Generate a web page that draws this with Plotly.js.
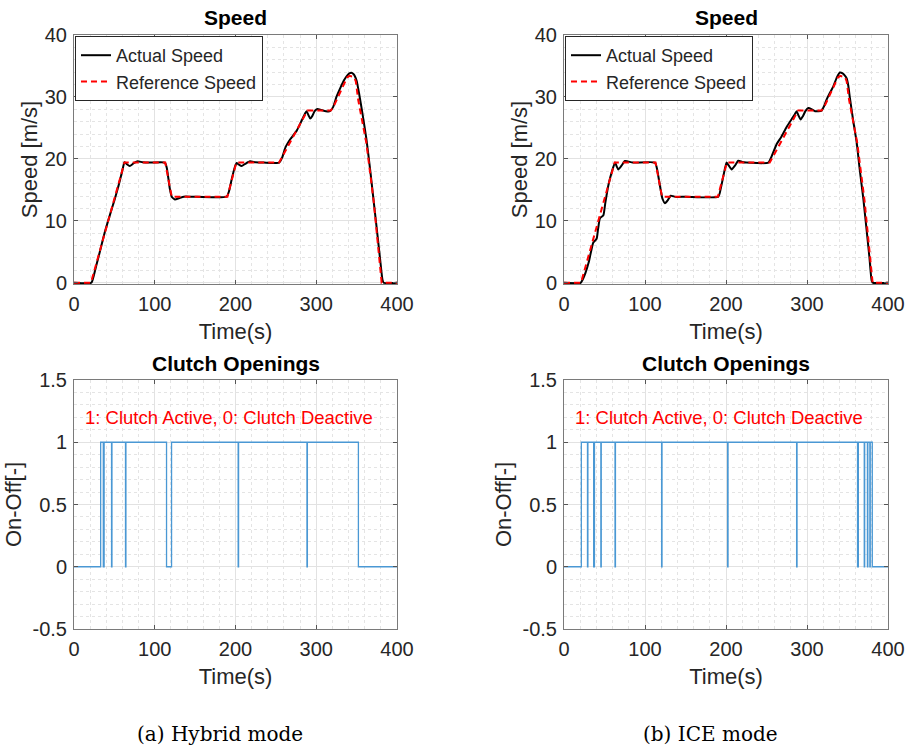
<!DOCTYPE html>
<html>
<head>
<meta charset="utf-8">
<script src="https://cdn.plot.ly/plotly-3.0.1.min.js"></script>
<style>html,body{margin:0;padding:0;background:#fff;}#chart{width:908px;height:749px;}</style>
</head>
<body>
<div id="chart"></div>
<script>
// ---- Reference speed (same cycle for both modes) ----
const refTime  = [0, 21, 62.5, 113, 121, 190, 201, 254, 289, 318, 322, 330, 338, 341, 347, 349, 352, 362, 371, 381, 400];
const refSpeed = [0, 0, 19.4, 19.4, 13.9, 13.9, 19.4, 19.4, 27.8, 27.8, 28.6, 31.0, 33.1, 33.4, 33.2, 32.5, 29.5, 22.6, 13.3, 0, 0];

// ---- Actual speed, hybrid mode ----
const hybTime  = [0, 21.5, 24, 28, 32, 38, 44.6, 50, 55, 60, 62.5, 65, 69, 74, 79, 85, 95, 112.5, 115, 118.5, 121, 125, 130, 136, 145, 189, 192, 195.3, 199, 201.4, 204, 207.6, 212, 218, 225, 235, 254, 258, 262, 268, 276, 282, 286, 288, 290.5, 292.5, 295, 298, 301.5, 306, 312, 317, 321, 325, 330, 334, 338, 341, 343.5, 346, 348, 350, 353, 357, 362, 367, 371, 376, 379, 382, 383.5, 400];
const hybSpeed = [0, 0, 0.9, 3.0, 5.0, 8.1, 11.0, 13.3, 15.6, 18.2, 19.45, 19.2, 18.85, 19.3, 19.6, 19.45, 19.4, 19.4, 18.5, 15.3, 13.9, 13.45, 13.65, 13.9, 13.9, 13.9, 14.8, 16.7, 18.6, 19.35, 19.1, 18.85, 19.2, 19.6, 19.45, 19.4, 19.4, 20.3, 21.9, 23.2, 24.6, 26.2, 27.3, 27.7, 27.0, 26.5, 26.9, 27.7, 28.05, 27.9, 27.7, 27.7, 28.4, 30.0, 31.5, 32.6, 33.4, 33.8, 33.9, 33.7, 33.3, 32.6, 30.6, 27.5, 23.3, 18.0, 13.3, 7.5, 3.9, 0.5, 0, 0];

// ---- Actual speed, ICE mode ----
const iceTime  = [0, 20.5, 23, 26.5, 30.5, 33, 36.2, 40.3, 42, 44.4, 48.6, 51, 54.7, 59, 63, 65, 67, 71, 75.3, 85, 112.3, 115, 118.5, 121.5, 124.7, 128, 131.7, 135, 139, 150, 190.5, 193.5, 196.7, 199, 200.8, 203.5, 207, 211, 215.2, 220, 225, 252.3, 256, 262.6, 268, 275, 281, 285, 287.2, 289.5, 292.2, 295, 298, 301.6, 306, 310, 314, 318, 321, 324.3, 328, 332.5, 337, 340.7, 344, 347, 349, 351, 353, 357, 361.4, 365, 369.6, 374, 377, 379.9, 381.5, 400];
const iceSpeed = [0, 0, 0.5, 1.6, 3.3, 4.8, 6.5, 7.1, 8.6, 10.4, 10.9, 12.9, 15.7, 17.9, 19.4, 18.8, 18.3, 18.9, 19.65, 19.4, 19.4, 18.3, 15.6, 13.6, 12.85, 13.3, 14.05, 13.95, 13.85, 13.9, 13.9, 15.2, 17.2, 18.6, 19.4, 18.9, 18.3, 18.9, 19.7, 19.5, 19.4, 19.4, 20.3, 22.4, 23.5, 25.2, 26.4, 27.2, 27.7, 27.0, 26.35, 26.9, 27.7, 28.2, 28.0, 27.7, 27.7, 27.8, 28.5, 29.6, 30.6, 31.7, 33.2, 33.95, 33.8, 33.4, 33.0, 31.8, 29.8, 26.2, 22.6, 18.4, 13.5, 8.0, 4.2, 0.3, 0, 0];

// ---- Clutch state (step signals) ----
const hybClutchTime  = [0, 33, 36.3, 37.3, 46.5, 47.0, 63.8, 64.3, 114.6, 120.8, 203.3, 203.8, 288.5, 289.0, 352.2, 400];
const hybClutchState = [0, 1, 0, 1, 0, 1, 0, 1, 0, 1, 0, 1, 0, 1, 0, 0];
const iceClutchTime  = [0, 21.4, 29.0, 29.5, 36.6, 37.6, 45.5, 46.0, 63.0, 63.5, 120.5, 121.0, 202.0, 202.5, 287.2, 287.7, 362.4, 363.4, 370.7, 371.2, 374.6, 375.1, 377.6, 378.1, 380.6, 400];
const iceClutchState = [0, 1, 0, 1, 0, 1, 0, 1, 0, 1, 0, 1, 0, 1, 0, 1, 0, 1, 0, 1, 0, 1, 0, 1, 0, 0];

// ---- Tick labels ----
const clutchTickVals = [-0.5, 0, 0.5, 1, 1.5];
const clutchTickText = ['-0.5', '0', '0.5', '1', '1.5'];

const FONT = 'Liberation Sans, Arial, Helvetica, sans-serif';
const TXT = '#262626';

function actual(x, y, xa, ya, lg) {
  return {x: x, y: y, xaxis: xa, yaxis: ya, type: 'scatter', mode: 'lines', name: 'Actual Speed',
    legend: lg, line: {color: '#000000', width: 2, shape: 'spline', smoothing: 0.5}};
}
function reference(xa, ya, lg) {
  return {x: refTime, y: refSpeed, xaxis: xa, yaxis: ya, type: 'scatter', mode: 'lines', name: 'Reference Speed',
    legend: lg, line: {color: '#ff0000', width: 2, dash: '6px,4px'}};
}
function clutch(x, y, xa, ya) {
  return {x: x, y: y, xaxis: xa, yaxis: ya, type: 'scatter', mode: 'lines', showlegend: false,
    line: {color: '#4a98d4', width: 1.3, shape: 'hv'}};
}

const traces = [
  actual(hybTime, hybSpeed, 'x', 'y', 'legend'),
  reference('x', 'y', 'legend'),
  actual(iceTime, iceSpeed, 'x2', 'y2', 'legend2'),
  reference('x2', 'y2', 'legend2'),
  clutch(hybClutchTime, hybClutchState, 'x3', 'y3'),
  clutch(iceClutchTime, iceClutchState, 'x4', 'y4')
];

function axisBase(extra) {
  return Object.assign({
    showline: true, mirror: 'ticks', linecolor: '#7a7a7a', linewidth: 1,
    ticks: 'inside', ticklen: 4, tickcolor: '#555555', tickwidth: 1,
    showgrid: true, gridcolor: '#e2e2e2', gridwidth: 1, zeroline: false,
    tickfont: {family: FONT, size: 20, color: TXT},
    fixedrange: true
  }, extra);
}
function xAxis(domain, anchor) {
  return axisBase({
    domain: domain, anchor: anchor, range: [0, 400], tickmode: 'linear', tick0: 0, dtick: 100,
    ticklabelstandoff: 2,
    minor: {dtick: 20, showgrid: true, gridcolor: '#e4e4e4', griddash: 'dot', ticks: ''},
    title: {text: 'Time(s)', font: {family: FONT, size: 22, color: TXT}, standoff: 9}
  });
}
const XL = [74/908, 397/908], XR = [564/908, 888/908];
const YT = [(749-284)/749, (749-35)/749], YB = [(749-629)/749, (749-380)/749];

const speedY = (domain, anchor) => axisBase({
  domain: domain, anchor: anchor, range: [-0.2, 40], tickmode: 'linear', tick0: 0, dtick: 10,
  minor: {dtick: 2, showgrid: true, gridcolor: '#e4e4e4', griddash: 'dot', ticks: ''},
  ticklabelstandoff: 2,
  title: {text: 'Speed [m/s]', font: {family: FONT, size: 22, color: TXT}, standoff: 1}
});
const clutchY = (domain, anchor) => axisBase({
  domain: domain, anchor: anchor, range: [-0.5, 1.5], tickmode: 'array',
  tickvals: clutchTickVals, ticktext: clutchTickText,
  minor: {tickvals: [-0.4,-0.3,-0.2,-0.1,0.1,0.2,0.3,0.4,0.6,0.7,0.8,0.9,1.1,1.2,1.3,1.4], showgrid: true, gridcolor: '#e4e4e4', griddash: 'dot', ticks: ''},
  ticklabelstandoff: 2,
  title: {text: 'On-Off[-]', font: {family: FONT, size: 22, color: TXT}, standoff: 4}
});

const legendBase = (x) => ({
  x: x, y: 1 - 36/749, xanchor: 'left', yanchor: 'top', xref: 'paper', yref: 'paper',
  bgcolor: '#ffffff', bordercolor: '#262626', borderwidth: 1,
  font: {family: FONT, size: 18, color: TXT}, tracegroupgap: 0, itemwidth: 30
});

const titleFont = {family: FONT, size: 21, color: '#000000', weight: 'bold'};
const annotations = [
  {text: '<b>Speed</b>', x: (XL[0]+XL[1])/2, y: 1 - 17/749, xref: 'paper', yref: 'paper', showarrow: false, xanchor: 'center', yanchor: 'middle', font: titleFont},
  {text: '<b>Speed</b>', x: (XR[0]+XR[1])/2, y: 1 - 17/749, xref: 'paper', yref: 'paper', showarrow: false, xanchor: 'center', yanchor: 'middle', font: titleFont},
  {text: '<b>Clutch Openings</b>', x: (XL[0]+XL[1])/2, y: 1 - 363/749, xref: 'paper', yref: 'paper', showarrow: false, xanchor: 'center', yanchor: 'middle', font: titleFont},
  {text: '<b>Clutch Openings</b>', x: (XR[0]+XR[1])/2, y: 1 - 363/749, xref: 'paper', yref: 'paper', showarrow: false, xanchor: 'center', yanchor: 'middle', font: titleFont},
  {text: '1: Clutch Active, 0: Clutch Deactive', x: 11, y: 1.2, xref: 'x3', yref: 'y3', showarrow: false, xanchor: 'left', yanchor: 'middle', font: {family: FONT, size: 18.5, color: '#ff0000'}},
  {text: '1: Clutch Active, 0: Clutch Deactive', x: 11, y: 1.2, xref: 'x4', yref: 'y4', showarrow: false, xanchor: 'left', yanchor: 'middle', font: {family: FONT, size: 18.5, color: '#ff0000'}},
  {text: '(a) Hybrid mode', x: 220/908, y: 1 - 734/749, xref: 'paper', yref: 'paper', showarrow: false, xanchor: 'center', yanchor: 'middle', font: {family: 'DejaVu Serif, serif', size: 20, color: '#000000'}},
  {text: '(b) ICE mode', x: 710/908, y: 1 - 734/749, xref: 'paper', yref: 'paper', showarrow: false, xanchor: 'center', yanchor: 'middle', font: {family: 'DejaVu Serif, serif', size: 20, color: '#000000'}}
];

const layout = {
  width: 908, height: 749, autosize: false,
  margin: {l: 0, r: 0, t: 0, b: 0, pad: 0},
  paper_bgcolor: '#ffffff', plot_bgcolor: '#ffffff',
  font: {family: FONT, color: TXT},
  xaxis: xAxis(XL, 'y'), yaxis: speedY(YT, 'x'),
  xaxis2: xAxis(XR, 'y2'), yaxis2: speedY(YT, 'x2'),
  xaxis3: xAxis(XL, 'y3'), yaxis3: clutchY(YB, 'x3'),
  xaxis4: xAxis(XR, 'y4'), yaxis4: clutchY(YB, 'x4'),
  legend: legendBase(75/908),
  legend2: legendBase(565/908),
  annotations: annotations
};

Plotly.newPlot('chart', traces, layout, {staticPlot: true, displayModeBar: false});
</script>
</body>
</html>
